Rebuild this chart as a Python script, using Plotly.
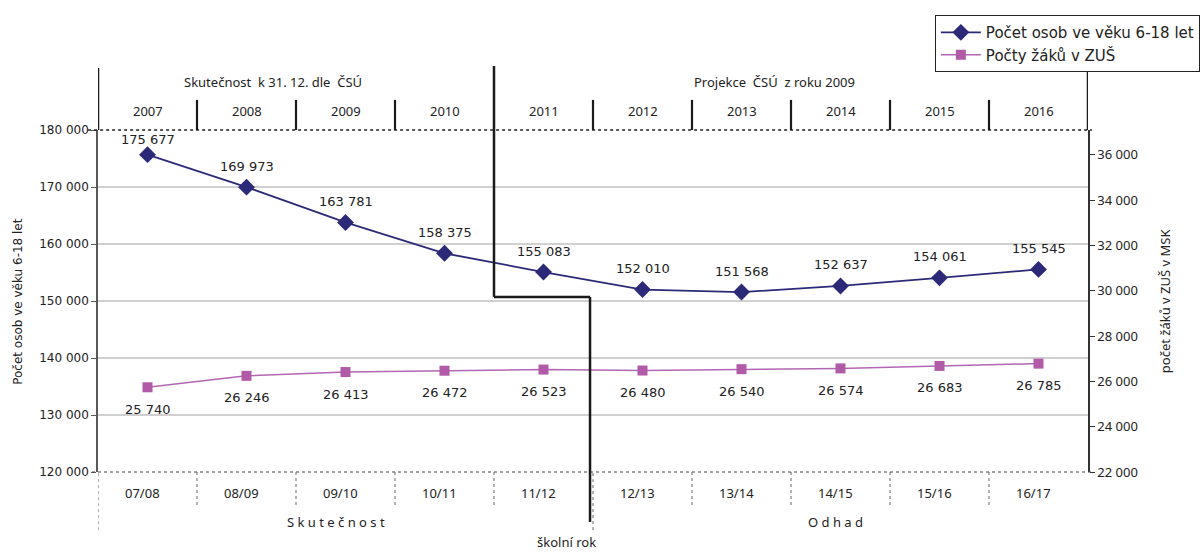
import plotly.graph_objects as go

# data
years = ["2007", "2008", "2009", "2010", "2011", "2012", "2013", "2014", "2015", "2016"]
school_years = ["07/08", "08/09", "09/10", "10/11", "11/12",
                "12/13", "13/14", "14/15", "15/16", "16/17"]
population_6_18 = [175677, 169973, 163781, 158375, 155083,
                   152010, 151568, 152637, 154061, 155545]
zus_pupils = [25740, 26246, 26413, 26472, 26523,
              26480, 26540, 26574, 26683, 26785]
left_ticks = [130000, 140000, 150000, 160000, 170000]

NAVY = "#2C2A78"
PINK = "#B05AA8"
FONT = "DejaVu Sans"
HFONT = "Noto Sans"


def fmt(v):
    return f"{v:,}".replace(",", " ")


fig = go.Figure()

fig.add_trace(go.Scatter(
    x=years, y=population_6_18,
    name="Počet osob ve věku 6-18 let",
    mode="lines+markers",
    line=dict(color=NAVY, width=1.8),
    marker=dict(symbol="diamond", size=13, color=NAVY),
    cliponaxis=False
))

fig.add_trace(go.Scatter(
    x=years, y=zus_pupils,
    name="Počty žáků v ZUŠ",
    yaxis="y2",
    mode="lines+markers",
    line=dict(color="#B366B3", width=1.5),
    marker=dict(symbol="square", size=10, color=PINK),
    cliponaxis=False
))

shapes = []

# gridlines (left axis)
for t in left_ticks:
    shapes.append(dict(type="line", xref="paper", yref="y", x0=0, x1=1, y0=t, y1=t,
                       line=dict(color="#C0C0C0", width=1.5), layer="below"))


def line(x0, x1, y0, y1, xref="x", yref="paper", color="#1A1A1A", width=2.5, dash="solid"):
    shapes.append(dict(type="line", xref=xref, yref=yref, x0=x0, x1=x1, y0=y0, y1=y1,
                       line=dict(color=color, width=width, dash=dash), layer="above"))


# top & bottom dotted borders
line(-0.01, 1.004, 1, 1, xref="paper", color="#222", width=1.5, dash="dot")
line(-0.006, 1.004, 0, 0, xref="paper", color="#444", width=1, dash="dot")

# header separators
line(-0.5, -0.5, 1.0, 1.181)
line(9.5, 9.5, 1.0, 1.181)
for i in range(len(years) - 1):
    b = i + 0.5
    if b == 3.5:
        continue
    line(b, b, 1.0, 1.088, width=2.2)

# step line (skutečnost / projekce)
line(3.5, 3.5, 0.512, 1.187, width=2.5)
line(3.5, 4.47, 0.512, 0.512, width=2.5)
line(4.47, 4.47, -0.146, 0.512, width=2.5)

# bottom dotted separators
line(-0.5, -0.5, -0.17, 0, color="#666", width=1, dash="dot")
line(4.5, 4.5, -0.17, 0, color="#666", width=1, dash="dot")
for i in range(len(years) - 1):
    b = i + 0.5
    if b == 4.5:
        continue
    line(b, b, -0.0965, 0, color="#666", width=1, dash="dot")

annotations = []

# data labels (x as category index)
for i, v in enumerate(population_6_18):
    annotations.append(dict(text=fmt(v), x=i, y=v, xref="x", yref="y",
                            showarrow=False, yshift=15 if i == 0 else 21,
                            font=dict(family=FONT, size=13, color="#222")))
for i, v in enumerate(zus_pupils):
    annotations.append(dict(text=fmt(v), x=i, y=v, xref="x", yref="y2",
                            showarrow=False, yshift=-22,
                            font=dict(family=FONT, size=13, color="#222")))


def note(text, x, y, size=13, family=HFONT, angle=0, xref="x"):
    annotations.append(dict(text=text, x=x, y=y, xref=xref, yref="paper",
                            showarrow=False, textangle=angle,
                            font=dict(family=family, size=size, color="#222"),
                            xanchor="center", yanchor="middle"))


note("Skutečnost  k 31. 12. dle  ČSÚ", 1.27, 1.14)
note("Projekce  ČSÚ  z roku 2009", 6.33, 1.14)
for i, y in enumerate(years):
    note(y, i, 1.056)
for i, s in enumerate(school_years):
    note(s, i - 0.055, -0.061)
note("S k u t e č n o s t", 1.9, -0.146)
note("O d h a d", 6.95, -0.146)
note("školní rok", 4.23, -0.204)

note("Počet osob ve věku 6-18 let", -0.081, 0.5, size=12, family=FONT, angle=-90, xref="paper")
note("počet žáků v ZUŠ v MSK", 1.078, 0.5, size=13, family=HFONT, angle=-90, xref="paper")

fig.update_layout(
    width=1204, height=552,
    margin=dict(l=98, r=116, t=130, b=80, autoexpand=False),
    plot_bgcolor="white", paper_bgcolor="white",
    separators=", ",
    showlegend=True,
    xaxis=dict(type="category", range=[-0.5, 9.5], showticklabels=False,
               showgrid=False, zeroline=False, showline=False, ticks=""),
    yaxis=dict(range=[120000, 180000], dtick=10000, tickformat=",d",
               showgrid=False, zeroline=False, showline=True,
               linecolor="#595959", linewidth=1.5,
               ticks="outside", ticklen=5, tickcolor="#595959",
               tickfont=dict(family=FONT, size=12, color="#222")),
    yaxis2=dict(overlaying="y", side="right", range=[22000, 37100],
                tick0=22000, dtick=2000, tickformat=",d",
                showgrid=False, zeroline=False, showline=True,
                linecolor="#333", linewidth=1.5,
                ticks="outside", ticklen=5, tickcolor="#333",
                tickfont=dict(family=HFONT, size=13, color="#222")),
    legend=dict(x=1.113, y=1.336, xanchor="right", yanchor="top",
                bordercolor="#222", borderwidth=1, bgcolor="white",
                font=dict(family=FONT, size=15, color="#222"),
                itemwidth=40, tracegroupgap=0),
    shapes=shapes,
    annotations=annotations,
)

fig.write_html("out.html", config={"displayModeBar": False},
               post_script="document.body.style.margin='0';")
